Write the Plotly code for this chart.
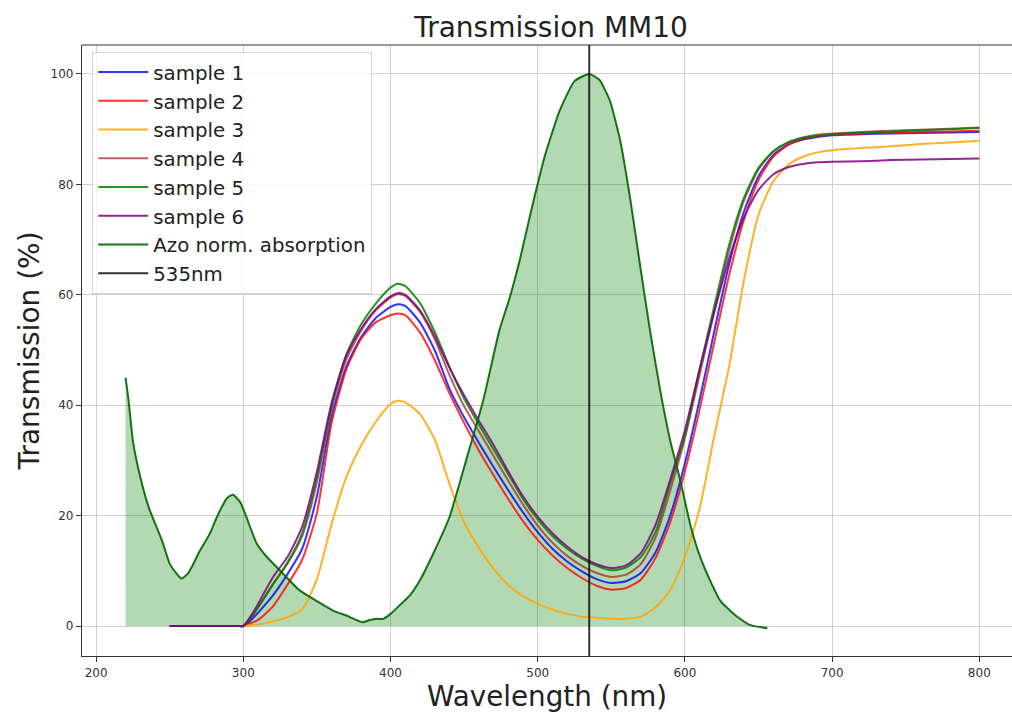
import plotly.graph_objects as go

# Wavelength grid (nm) shared by the six transmission spectra
wavelength = [250, 290, 296, 300, 305, 310, 320, 330, 340, 350, 360, 370, 380, 390, 400, 405,
              410, 420, 430, 440, 450, 460, 470, 480, 490, 500, 510, 520, 530, 540,
              550, 560, 570, 580, 590, 600, 610, 620, 630, 640, 650, 660, 670, 680,
              690, 700, 720, 740, 760, 780, 800]

sample_1 = [0, 0, 0, 0, 1.0, 2.4, 5.5, 9.4, 14, 23.5, 38, 47, 52.3, 55.8, 57.8, 58.3,
            58, 55, 50, 43, 37.8, 33.2, 28.8, 24.6, 20.6, 17, 14, 11.7, 9.9, 8.5,
            7.8, 8.1, 9.6, 13.3, 20, 29.5, 41, 53.5, 65.5, 75, 81.5, 85.3, 87.2, 88.1,
            88.6, 88.9, 89.1, 89.2, 89.3, 89.4, 89.5]
sample_2 = [0, 0, 0, 0, 0.5, 1.1, 3.5, 7.5, 12, 20.5, 36.8, 46.5, 52, 55, 56.3, 56.6,
            56.3, 53.2, 48.2, 42.2, 36.8, 31.8, 27.3, 23, 19, 15.6, 12.8, 10.5, 8.7, 7.3,
            6.6, 6.9, 8.4, 12.3, 18.8, 28, 39.2, 51.5, 63.5, 73.5, 80.8, 85, 87.1, 88.2,
            88.7, 89, 89.2, 89.4, 89.5, 89.6, 89.7]
sample_3 = [0, 0, 0, 0, 0.1, 0.3, 0.8, 1.6, 3.0, 8.5, 18.5, 27, 32.7, 37, 40.2, 40.8,
            40.5, 38.4, 33.8, 25.8, 18.8, 14.2, 10.4, 7.4, 5.4, 4.0, 3.0, 2.2, 1.7, 1.5,
            1.3, 1.3, 1.7, 3.4, 6.5, 12.5, 21.3, 34.5, 47, 62.5, 74.5, 80.5, 83.5, 85,
            85.8, 86.2, 86.6, 86.9, 87.3, 87.6, 87.9]
sample_4 = [0, 0, 0, 0, 1.4, 3.4, 7.5, 11.3, 16.3, 26, 39.5, 48.3, 53.5, 57.2, 59.5, 60.1,
            59.8, 56.9, 52, 45.5, 39.8, 35.3, 30.8, 26.3, 22, 18.2, 15.1, 12.7, 10.9, 9.6,
            8.9, 9.3, 11.2, 16, 24.5, 34, 45.5, 57, 68, 77, 82.7, 85.9, 87.6, 88.5,
            89, 89.2, 89.5, 89.7, 89.9, 90.1, 90.3]
sample_5 = [0, 0, 0, 0, 1.5, 3.3, 7.5, 11.5, 16.8, 27, 39.8, 49.2, 54.6, 58.4, 61.3, 62,
            61.6, 58.5, 53.3, 47, 41.2, 36.5, 32, 27.5, 23, 19.3, 16.3, 14, 12.2, 10.9,
            10.1, 10.6, 12.5, 17, 25.8, 34.5, 46.5, 58, 69, 77.5, 83, 86, 87.6, 88.4,
            88.8, 89.1, 89.4, 89.6, 89.8, 90, 90.2]
sample_6 = [0, 0, 0, 0, 1.8, 4, 8.8, 12.5, 18, 28, 40.5, 49, 53.8, 57.4, 59.7, 60.3,
            60, 57.2, 52.5, 46.8, 41.8, 37.2, 32.8, 28, 23.5, 19.8, 16.8, 14.4, 12.5, 11.2,
            10.5, 11, 13.2, 18.3, 26.5, 35.5, 46.5, 57, 66.5, 74, 79, 81.8, 83.1, 83.7,
            84, 84.1, 84.2, 84.4, 84.5, 84.6, 84.7]

# Normalised azo-dye absorption spectrum
azo_wavelength = [220, 222, 225, 230, 236, 245, 250, 255, 258, 262, 265, 270, 277, 283,
                  289, 293, 298, 302, 309, 316, 327, 338, 350, 361, 370, 381, 386, 391,
                  395, 400, 406, 413, 420, 429, 440, 452, 463, 474, 481, 488, 495, 505,
                  515, 525, 535, 542, 549, 556, 563, 569, 576, 583, 590, 597, 604, 610,
                  617, 624, 634, 644, 656]
azo_absorption = [45, 41, 33.5, 27, 21.3, 15.3, 11.3, 9.4, 8.6, 9.4, 10.7, 13.4, 16.6, 20.3,
                  23.2, 23.8, 22.4, 19.8, 15, 12.5, 9.5, 6.5, 4.5, 2.8, 1.9, 0.7, 1.1, 1.3,
                  1.3, 2.2, 3.7, 5.5, 8.3, 13.1, 19.7, 30.6, 40.9, 53.6, 59.5, 66.5, 74.6, 85.3,
                  93.4, 98.7, 100, 98.9, 95.2, 88, 77.1, 66.3, 54, 43, 33.6, 26.2, 18, 12.8,
                  8.3, 4.6, 2.0, 0.2, -0.4]

marker_wavelength = 535
sample_names = ["sample 1", "sample 2", "sample 3", "sample 4", "sample 5", "sample 6"]
sample_colors = ["rgba(0,0,255,0.8)", "rgba(255,0,0,0.8)", "rgba(255,165,0,0.85)",
                 "rgba(165,42,42,0.75)", "rgba(0,128,0,0.85)", "rgba(128,0,128,0.85)"]

X_RANGE = [190.42, 822.2]
Y_RANGE = [-5.43, 105.25]

fig = go.Figure()

# shaded area under the absorption curve
fig.add_trace(go.Scatter(x=azo_wavelength, y=azo_absorption, mode="lines",
                         line=dict(width=0, shape="spline", smoothing=0.5),
                         fill="tozeroy", fillcolor="rgba(0,128,0,0.3)",
                         showlegend=False, hoverinfo="skip"))

for name, color, values in zip(sample_names, sample_colors,
                               [sample_1, sample_2, sample_3, sample_4, sample_5, sample_6]):
    fig.add_trace(go.Scatter(x=wavelength, y=values, mode="lines", name=name,
                             line=dict(color=color, width=2, shape="spline", smoothing=0.6)))

fig.add_trace(go.Scatter(x=azo_wavelength, y=azo_absorption, mode="lines",
                         name="Azo norm. absorption",
                         line=dict(color="rgba(0,100,0,0.9)", width=2,
                                   shape="spline", smoothing=0.5)))

fig.add_trace(go.Scatter(x=[marker_wavelength, marker_wavelength], y=Y_RANGE,
                         mode="lines", name="535nm",
                         line=dict(color="rgba(0,0,0,0.8)", width=2)))

axis_common = dict(showgrid=True, gridcolor="#cfcfcf", gridwidth=1, zeroline=False,
                   showline=True, linecolor="#333333", linewidth=1.2, mirror=False,
                   ticks="outside", ticklen=5, tickcolor="#333333", tickwidth=1,
                   tickfont=dict(size=12, color="#333333"))

fig.update_layout(
    width=1012, height=713,
    margin=dict(l=82, r=0, t=45, b=57, pad=0),
    paper_bgcolor="white", plot_bgcolor="white",
    font=dict(family="DejaVu Sans", color="#222222"),
    title=dict(text="Transmission MM10", x=0.5445, xref="container", xanchor="center",
               y=0.962, yref="container", yanchor="middle",
               font=dict(size=28, color="#222222")),
    xaxis=dict(range=X_RANGE, tickvals=[200, 300, 400, 500, 600, 700, 800],
               title=dict(text="Wavelength (nm)", font=dict(size=27.8), standoff=9),
               **axis_common),
    yaxis=dict(range=Y_RANGE, tickvals=[0, 20, 40, 60, 80, 100],
               title=dict(text="Transmission (%)", font=dict(size=28), standoff=2),
               **axis_common),
    legend=dict(x=0.011, y=0.989, xanchor="left", yanchor="top",
                bgcolor="rgba(255,255,255,0.8)", bordercolor="#d5d5d5", borderwidth=1,
                font=dict(size=19.8, color="#222222"), itemwidth=50, tracegroupgap=0),
    shapes=[dict(type="line", xref="paper", yref="paper", x0=0, x1=1, y0=1, y1=1,
                 line=dict(color="#333333", width=1.2))],
)

fig.write_html("out.html")
